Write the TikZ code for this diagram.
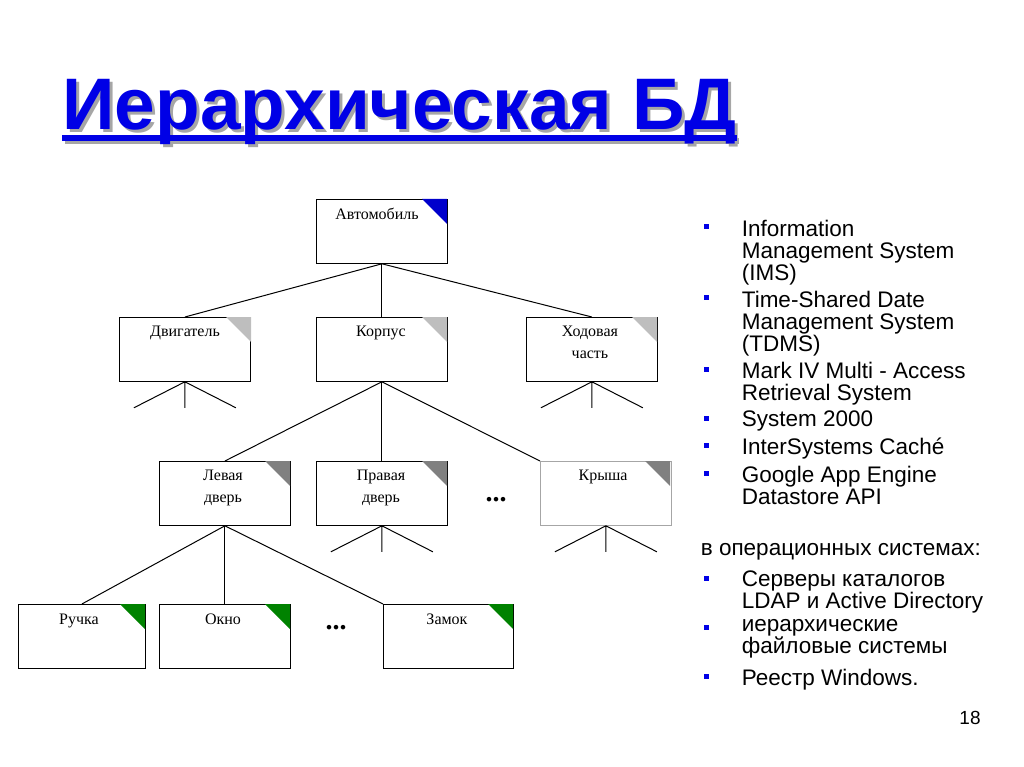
\documentclass[tikz,border=0pt]{standalone}
\usepackage{fontspec}
\setmainfont{Liberation Serif}
\newfontfamily\arialf{Liberation Sans}
\definecolor{titleblue}{RGB}{0,0,230}
\definecolor{cornergray}{RGB}{190,190,190}
\definecolor{cornergreen}{RGB}{0,130,0}
\tikzset{
  rec/.style={draw, thick, minimum width=131pt, minimum height=64pt, anchor=north west,
    inner sep=0pt},
  lbl/.style={font=\fontsize{16}{22}\selectfont, align=center, anchor=north},
  bul/.style={fill=titleblue, minimum size=5pt, inner sep=0pt},
  itm/.style={font=\arialf\fontsize{22.5}{22}\selectfont, align=left, anchor=north west},
  ttl/.style={anchor=base west, inner sep=0pt, font=\arialf\bfseries\fontsize{73}{74}\selectfont}
}
\newcommand{\corner}[3]{\fill[#3] (#1,#2) -- ++(-25,0) -- ++(25,25) -- cycle;}
\begin{document}
\begin{tikzpicture}[x=1pt,y=-1pt,line width=1pt]
\useasboundingbox (0,0) rectangle (1024,767);
% title
\node[ttl, text=gray!70] (tshadow) at (65,133) {Иерархическая БД};
\fill[gray!70] (65,138) rectangle (739,144);
\node[ttl, text=titleblue] (title) at (62,130) {Иерархическая БД};
\fill[titleblue] (title.west |- 0,135) rectangle (title.east |- 0,141);
% boxes
\node[rec] (auto) at (316,199) {};
\node[rec] (dvig) at (119,317) {};
\node[rec] (korp) at (316,317) {};
\node[rec] (hod) at (526,317) {};
\node[rec] (lev) at (159,461) {};
\node[rec] (prav) at (316,461) {};
\node[rec, draw=gray!70] (krysha) at (540,461) {};
\node[rec, minimum width=127pt] (ruch) at (18,604) {};
\node[rec] (okno) at (159,604) {};
\node[rec, minimum width=130pt] (zamok) at (383,604) {};
\corner{447}{199}{blue!80!black}
\corner{251}{317}{cornergray}
\corner{447}{317}{cornergray}
\corner{657}{317}{cornergray}
\corner{290}{461}{gray}
\corner{447}{461}{gray}
\corner{670}{461}{gray}
\corner{145}{604}{cornergreen}
\corner{290}{604}{cornergreen}
\corner{513}{604}{cornergreen}
% labels
\node[lbl] at (377,204) {Автомобиль};
\node[lbl] at (185,322) {Двигатель};
\node[lbl] at (381,322) {Корпус};
\node[lbl] at (590,322) {Ходовая\\часть};
\node[lbl] at (223,466) {Левая\\дверь};
\node[lbl] at (381,466) {Правая\\дверь};
\node[lbl] at (603,466) {Крыша};
\node[lbl] at (79,610) {Ручка};
\node[lbl] at (223,610) {Окно};
\node[lbl] at (447,610) {Замок};
% connectors
\foreach \c in {dvig,korp,hod} \draw (auto.south) -- (\c.north);
\foreach \c in {lev,prav} \draw (korp.south) -- (\c.north);
\draw (korp.south) -- (krysha.north west);
\foreach \c in {ruch,okno} \draw (lev.south) -- (\c.north);
\draw (lev.south) -- (zamok.north west);
% stubs
\foreach \b in {dvig,hod,krysha,prav}{
  \draw (\b.south) -- ++(0,26) (\b.south) -- ++(-51,26) (\b.south) -- ++(51,26);
}
\node[font=\bfseries\fontsize{28}{28}\selectfont] (dots1) at (496,500) {...};
\node[font=\bfseries\fontsize{28}{28}\selectfont] (dots2) at (336,628) {...};
% list
\foreach \y in {227,297,369,418,445,473,578,627,676} \node[bul] at (706,\y) {};
\node[itm] (l1) at (738,216) {Information\\Management System\\(IMS)};
\node[itm] (l2) at (738,287) {Time-Shared Date\\Management System\\(TDMS)};
\node[itm] (l3) at (738,358) {Mark IV Multi - Access\\Retrieval System};
\node[itm] (l4) at (738,407) {System 2000};
\node[itm] (l5) at (738,434) {InterSystems Caché};
\node[itm] (l6) at (738,462) {Google App Engine\\Datastore API};
\node[itm] (os) at (697,540) {в операционных системах:};
\node[itm] (l7) at (738,567) {Серверы каталогов\\LDAP и Active Directory};
\node[itm] (l8) at (738,616) {иерархические\\файловые системы};
\node[itm] (l9) at (738,665) {Реестр Windows.};
\node[font=\arialf\fontsize{19}{19}\selectfont] (num) at (970,718) {18};
\end{tikzpicture}
\end{document}
